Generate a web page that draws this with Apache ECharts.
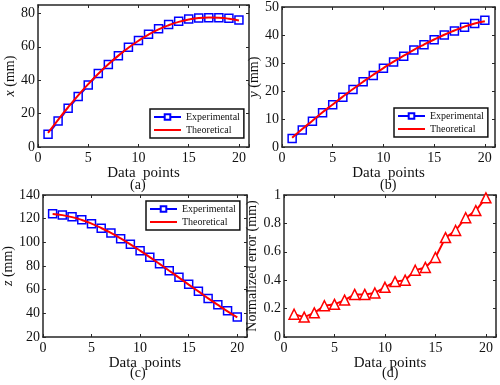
<!DOCTYPE html>
<html>
<head>
<meta charset="utf-8">
<script src="https://cdn.jsdelivr.net/npm/echarts@6/dist/echarts.min.js"></script>
<style>
  html, body { margin: 0; padding: 0; background: #fff; }
  #chart { width: 500px; height: 385px; }
</style>
</head>
<body>
<div id="chart"></div>
<script>
// data points 1..20
const points = [1,2,3,4,5,6,7,8,9,10,11,12,13,14,15,16,17,18,19,20];

// (a) x (mm)
const xExp = [7.7,15.5,23.2,30.2,37.1,44.0,49.4,54.6,59.7,63.7,67.5,70.8,73.4,75.2,76.6,77.2,77.4,77.4,77.0,76.0];
const xTheo = [8.5,16.3,23.8,30.9,37.6,43.8,49.5,54.7,59.4,63.6,67.3,70.4,72.9,74.9,76.3,77.2,77.5,77.4,76.8,75.7];
// (b) y (mm)
const yExp = [3.0,6.1,9.2,12.2,15.1,17.8,20.5,23.3,25.5,28.1,30.4,32.4,34.6,36.5,38.3,40.0,41.4,42.8,44.1,45.3];
const yTheo = [3.3,6.4,9.4,12.4,15.2,18.0,20.7,23.3,25.8,28.2,30.5,32.6,34.7,36.6,38.4,40.1,41.6,43.0,44.1,44.9];
// (c) z (mm)
const zExp = [124.1,123.0,121.6,119.0,115.6,111.9,107.9,103.1,98.3,92.9,87.5,81.8,75.9,70.5,64.5,58.6,52.6,47.2,42.1,37.0];
const zTheo = [124.0,123.0,121.3,118.9,115.8,112.1,107.9,103.3,98.3,93.0,87.5,81.8,76.0,70.2,64.3,58.5,52.7,47.1,41.7,36.6];
// (d) normalized error (mm)
const errVals = [0.16,0.14,0.17,0.22,0.23,0.26,0.30,0.30,0.31,0.35,0.39,0.40,0.47,0.49,0.56,0.70,0.75,0.84,0.89,0.98];

const xTicks = [0,5,10,15,20];
const font = '"Liberation Serif", "DejaVu Serif", serif';
const axisCol = '#262626';

const grids = [
  {left: 38, top: 5, width: 211, height: 142},
  {left: 282, top: 7, width: 213, height: 140},
  {left: 38, top: 195, width: 209, height: 142},
  {left: 284, top: 195, width: 212, height: 142}
];
const yRanges = [
  {min: 0, max: 85, interval: 20},
  {min: 0, max: 50, interval: 10},
  {min: 20, max: 140, interval: 20},
  {min: 0, max: 1, interval: 0.2}
];
const yNames = ['{i|x} (mm)', '{i|y} (mm)', '{i|z} (mm)', 'Normalized error (mm)'];
const yGaps = [19, 19, 21, 19];

function pairs(vals) { return points.map((p, i) => [p, vals[i]]); }

const xAxes = [], yAxes = [];
grids.forEach((g, i) => {
  const base = {
    gridIndex: i, type: 'value', min: 0, max: 21, interval: 5,
    axisLine: {show: true, onZero: false, lineStyle: {color: axisCol, width: 1.5}},
    axisTick: {show: true, inside: true, length: 3, lineStyle: {color: axisCol}},
    splitLine: {show: false}
  };
  xAxes.push(Object.assign({}, base, {
    position: 'bottom',
    axisLabel: {color: '#111', fontFamily: font, fontSize: 14, margin: 4,
      formatter: v => xTicks.indexOf(v) >= 0 ? String(v) : ''},
    name: 'Data  points', nameLocation: 'middle', nameGap: 14,
    nameTextStyle: {color: '#111', fontFamily: font, fontSize: 15}
  }));
  xAxes.push(Object.assign({}, base, {position: 'top', axisLabel: {show: false}}));
  const r = yRanges[i];
  const ybase = {
    gridIndex: i, type: 'value', min: r.min, max: r.max, interval: r.interval,
    axisLine: {show: true, onZero: false, lineStyle: {color: axisCol, width: 1.5}},
    axisTick: {show: true, inside: true, length: 3, lineStyle: {color: axisCol}},
    splitLine: {show: false}
  };
  yAxes.push(Object.assign({}, ybase, {
    position: 'left',
    axisLabel: {color: '#111', fontFamily: font, fontSize: 14, margin: 3},
    name: yNames[i], nameLocation: 'middle', nameGap: yGaps[i],
    nameTextStyle: {color: '#111', fontFamily: font, fontSize: 14,
      rich: {i: {fontStyle: 'italic', fontFamily: font, fontSize: 14, color: '#111'}}}
  }));
  yAxes.push(Object.assign({}, ybase, {position: 'right', axisLabel: {show: false}}));
});

function expSeries(i, vals) {
  return {
    name: 'Experimental', type: 'line', xAxisIndex: 2 * i, yAxisIndex: 2 * i,
    data: pairs(vals), symbol: 'rect', symbolSize: 8,
    lineStyle: {color: '#0000ff', width: 2},
    itemStyle: {color: '#fff', borderColor: '#0000ff', borderWidth: 1.5},
    z: 2
  };
}
function theoSeries(i, vals) {
  return {
    name: 'Theoretical', type: 'line', xAxisIndex: 2 * i, yAxisIndex: 2 * i,
    data: pairs(vals), smooth: true, showSymbol: false, symbol: 'none',
    lineStyle: {color: '#ff0000', width: 2},
    itemStyle: {color: '#ff0000'},
    z: 3
  };
}

const legendPos = [
  {left: 150, top: 109},
  {left: 394, top: 108},
  {left: 146, top: 201}
];
const legends = legendPos.map(p => ({
  left: p.left, top: p.top, orient: 'vertical', itemGap: 3,
  itemWidth: 27, itemHeight: 7, padding: [3, 4, 3, 3],
  borderColor: '#111', borderWidth: 1.5, backgroundColor: '#fff', borderRadius: 0,
  textStyle: {fontFamily: font, fontSize: 10, color: '#111'},
  data: [
    {name: 'Experimental'},
    {name: 'Theoretical', itemStyle: {opacity: 0}}
  ],
  selectedMode: false
}));

const captions = ['(a)', '(b)', '(c)', '(d)'];
const capPos = [[138, 186], [388, 186], [138, 374], [390, 374]];

const option = {
  animation: false,
  backgroundColor: '#fff',
  grid: grids,
  xAxis: xAxes,
  yAxis: yAxes,
  legend: legends,
  graphic: captions.map((c, i) => ({
    type: 'text', left: capPos[i][0] - 8, top: capPos[i][1] - 8,
    style: {text: c, font: '14px ' + font, fill: '#111'}
  })),
  series: [
    expSeries(0, xExp), theoSeries(0, xTheo),
    expSeries(1, yExp), theoSeries(1, yTheo),
    expSeries(2, zExp), theoSeries(2, zTheo),
    {
      name: 'Error', type: 'line', xAxisIndex: 6, yAxisIndex: 6,
      data: pairs(errVals), symbol: 'triangle', symbolSize: 10,
      lineStyle: {color: '#ff0000', width: 2},
      itemStyle: {color: '#fff', borderColor: '#ff0000', borderWidth: 1.5}
    }
  ]
};

const chart = echarts.init(document.getElementById('chart'));
chart.setOption(option);
</script>
</body>
</html>
